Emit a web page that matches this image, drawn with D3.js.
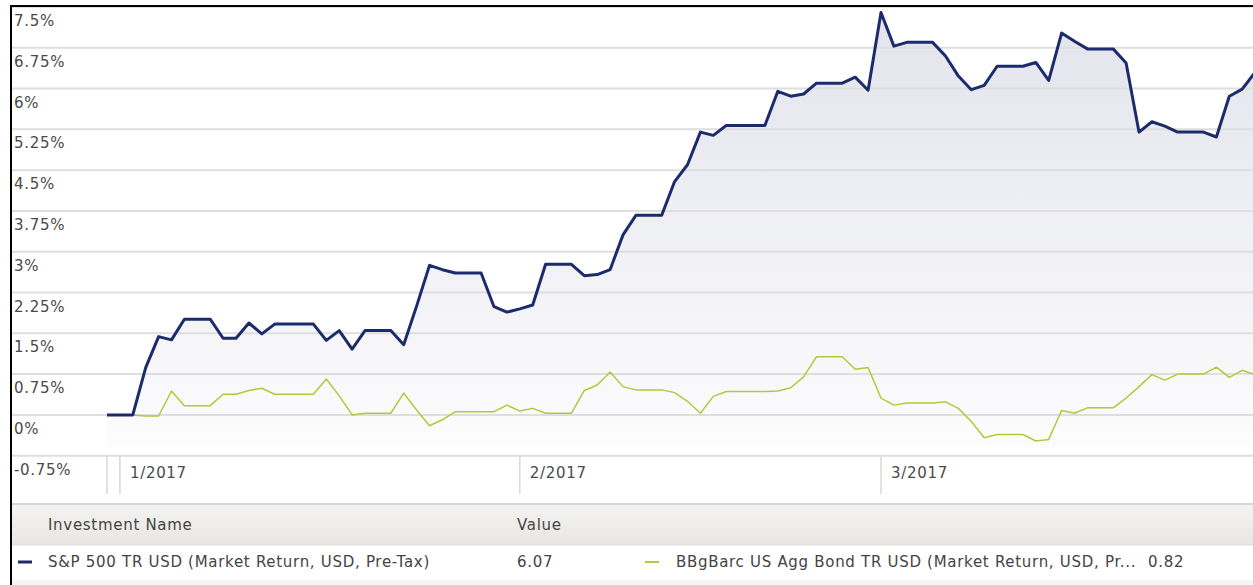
<!DOCTYPE html>
<html>
<head>
<meta charset="utf-8">
<script src="https://cdn.jsdelivr.net/npm/d3@7"></script>
<style>
  body { margin: 0; background: #fff; }
  svg { display: block; font-family: "DejaVu Sans", Verdana, sans-serif; }
  svg text { font-size: 15px; letter-spacing: 0.7px; }
</style>
</head>
<body>
<div id="chart"></div>
<script>
// --- Daten ---
const startDatum = "2016-12-31";
const endDatum = "2017-03-31";

// tägliche Punkte 31.12.2016 - 31.03.2017 (Wochenenden flach)
const tage = [
  "2016-12-31",
  "2017-01-01","2017-01-02","2017-01-03","2017-01-04","2017-01-05","2017-01-06","2017-01-07","2017-01-08",
  "2017-01-09","2017-01-10","2017-01-11","2017-01-12","2017-01-13","2017-01-14","2017-01-15","2017-01-16",
  "2017-01-17","2017-01-18","2017-01-19","2017-01-20","2017-01-21","2017-01-22","2017-01-23","2017-01-24",
  "2017-01-25","2017-01-26","2017-01-27","2017-01-28","2017-01-29","2017-01-30","2017-01-31",
  "2017-02-01","2017-02-02","2017-02-03","2017-02-04","2017-02-05","2017-02-06","2017-02-07","2017-02-08",
  "2017-02-09","2017-02-10","2017-02-11","2017-02-12","2017-02-13","2017-02-14","2017-02-15","2017-02-16",
  "2017-02-17","2017-02-18","2017-02-19","2017-02-20","2017-02-21","2017-02-22","2017-02-23","2017-02-24",
  "2017-02-25","2017-02-26","2017-02-27","2017-02-28",
  "2017-03-01","2017-03-02","2017-03-03","2017-03-04","2017-03-05","2017-03-06","2017-03-07","2017-03-08",
  "2017-03-09","2017-03-10","2017-03-11","2017-03-12","2017-03-13","2017-03-14","2017-03-15","2017-03-16",
  "2017-03-17","2017-03-18","2017-03-19","2017-03-20","2017-03-21","2017-03-22","2017-03-23","2017-03-24",
  "2017-03-25","2017-03-26","2017-03-27","2017-03-28","2017-03-29","2017-03-30","2017-03-31"
];

// S&P 500 TR USD, kumulierte Rendite in %
const sp500 = [
  0,
  0, 0, 0.87, 1.44, 1.38, 1.76, 1.76, 1.76,
  1.41, 1.41, 1.69, 1.49, 1.67, 1.67, 1.67, 1.67,
  1.37, 1.55, 1.21, 1.55, 1.55, 1.55, 1.29, 2.00,
  2.75, 2.67, 2.61, 2.61, 2.61, 1.99, 1.89,
  1.95, 2.02, 2.77, 2.77, 2.77, 2.56, 2.58, 2.67,
  3.31, 3.67, 3.67, 3.67, 4.29, 4.60, 5.20, 5.14,
  5.32, 5.32, 5.32, 5.32, 5.95, 5.86, 5.90, 6.10,
  6.10, 6.10, 6.21, 5.97,
  7.40, 6.78, 6.85, 6.85, 6.85, 6.60, 6.23, 5.98,
  6.06, 6.41, 6.41, 6.41, 6.48, 6.15, 7.02, 6.87,
  6.73, 6.73, 6.73, 6.47, 5.20, 5.39, 5.31, 5.20,
  5.20, 5.20, 5.11, 5.86, 5.99, 6.30, 6.07
];

// BBgBarc US Agg Bond TR USD, kumulierte Rendite in %
const agg = [
  0,
  0, 0, -0.02, -0.02, 0.44, 0.17, 0.17, 0.17,
  0.38, 0.38, 0.45, 0.49, 0.38, 0.38, 0.38, 0.38,
  0.66, 0.35, 0.00, 0.03, 0.03, 0.03, 0.40, 0.09,
  -0.20, -0.09, 0.06, 0.06, 0.06, 0.06, 0.18,
  0.07, 0.12, 0.03, 0.03, 0.03, 0.45, 0.55, 0.79,
  0.52, 0.46, 0.46, 0.46, 0.41, 0.25, 0.03, 0.34,
  0.43, 0.43, 0.43, 0.43, 0.44, 0.50, 0.70, 1.07,
  1.07, 1.07, 0.84, 0.87,
  0.31, 0.18, 0.22, 0.22, 0.22, 0.24, 0.12, -0.12,
  -0.42, -0.36, -0.36, -0.36, -0.48, -0.45, 0.08, 0.03,
  0.13, 0.13, 0.13, 0.31, 0.52, 0.74, 0.64, 0.75,
  0.75, 0.75, 0.88, 0.69, 0.82, 0.74, 0.82
];

const yTicks = [-0.75, 0, 0.75, 1.5, 2.25, 3, 3.75, 4.5, 5.25, 6, 6.75, 7.5];
const yTickLabels = ["-0.75%", "0%", "0.75%", "1.5%", "2.25%", "3%", "3.75%", "4.5%", "5.25%", "6%", "6.75%", "7.5%"];
const xTicks = ["2017-01-01", "2017-02-01", "2017-03-01"];
const xTickLabels = ["1/2017", "2/2017", "3/2017"];

const serienNamen = ["S&P 500 TR USD (Market Return, USD, Pre-Tax)", "BBgBarc US Agg Bond TR USD (Market Return, USD, Pr..."];
const serienWerte = ["6.07", "0.82"];

// --- Layout ---
const W = 1253, H = 585;
const parse = d3.timeParse("%Y-%m-%d");

const svg = d3.select("#chart").append("svg")
  .attr("width", W)
  .attr("height", H);

const x = d3.scaleTime()
  .domain([parse(startDatum), parse(endDatum)])
  .range([107, 1268]);

const y = d3.scaleLinear()
  .domain([-0.75, 7.5])
  .range([455.7, 7]);

const spData = tage.map((t, i) => ({ x: parse(t), y: sp500[i] }));
const aggData = tage.map((t, i) => ({ x: parse(t), y: agg[i] }));

// Verlauf für die Fläche unter der S&P-Linie
const defs = svg.append("defs");
const grad = defs.append("linearGradient")
  .attr("id", "flaeche").attr("x1", 0).attr("y1", 0).attr("x2", 0).attr("y2", 1);
grad.append("stop").attr("offset", "0%").attr("stop-color", "#e3e4ec");
grad.append("stop").attr("offset", "100%").attr("stop-color", "#fcfcfd");

const kopf = defs.append("linearGradient")
  .attr("id", "kopf").attr("x1", 0).attr("y1", 0).attr("x2", 0).attr("y2", 1);
kopf.append("stop").attr("offset", "0%").attr("stop-color", "#f4f3f1");
kopf.append("stop").attr("offset", "100%").attr("stop-color", "#e9e7e4");

// Fläche
svg.append("path")
  .datum(spData)
  .attr("fill", "url(#flaeche)")
  .attr("d", d3.area()
    .x(d => x(d.x))
    .y0(y(-0.6))
    .y1(d => y(d.y)));

// Gitterlinien
svg.append("g")
  .selectAll("line")
  .data(yTicks)
  .enter()
  .append("line")
  .attr("x1", 12).attr("x2", W)
  .attr("y1", d => y(d)).attr("y2", d => y(d))
  .attr("stroke", "#dedede")
  .attr("stroke-width", 2);

// Y-Beschriftungen (unter der jeweiligen Linie)
svg.append("g")
  .selectAll("text")
  .data(yTicks)
  .enter()
  .append("text")
  .attr("x", 14)
  .attr("y", d => y(d) + 19)
  .attr("fill", "#4a4a4a")
  .text((d, i) => yTickLabels[i]);

// X-Achse: senkrechte Striche + Monatslabels
const xStriche = [startDatum].concat(xTicks);
svg.append("g")
  .selectAll("line")
  .data(xStriche)
  .enter()
  .append("line")
  .attr("x1", d => x(parse(d))).attr("x2", d => x(parse(d)))
  .attr("y1", 456).attr("y2", 494)
  .attr("stroke", "#d8d8d8")
  .attr("stroke-width", 1.5);

svg.append("g")
  .selectAll("text")
  .data(xTicks)
  .enter()
  .append("text")
  .attr("x", d => x(parse(d)) + 10)
  .attr("y", 478)
  .attr("fill", "#4a4a4a")
  .text((d, i) => xTickLabels[i]);

// Linien
const line = d3.line().x(d => x(d.x)).y(d => y(d.y));

svg.append("path")
  .datum(aggData)
  .attr("fill", "none")
  .attr("stroke", "#b4c83a")
  .attr("stroke-width", 1.5)
  .attr("stroke-linejoin", "round")
  .attr("d", line);

svg.append("path")
  .datum(spData)
  .attr("fill", "none")
  .attr("stroke", "#1c2b6b")
  .attr("stroke-width", 3)
  .attr("stroke-linejoin", "round")
  .attr("d", line);

// --- Legende / Tabelle ---
svg.append("rect").attr("x", 12).attr("y", 503).attr("width", W).attr("height", 2).attr("fill", "#d6d6d6");
svg.append("rect").attr("x", 12).attr("y", 505).attr("width", W).attr("height", 39).attr("fill", "url(#kopf)");
svg.append("rect").attr("x", 12).attr("y", 544).attr("width", W).attr("height", 1.5).attr("fill", "#e2e2e2");
svg.append("rect").attr("x", 12).attr("y", 580).attr("width", W).attr("height", 5).attr("fill", "#f6f6f6");

svg.append("text").attr("x", 48).attr("y", 530).attr("fill", "#444").text("Investment Name");
svg.append("text").attr("x", 517).attr("y", 530).attr("fill", "#444").text("Value");

const legX = [18, 645];
const legTextX = [48, 676];
const legWertX = [517, 1148];
const farben = ["#1c2b6b", "#b4c83a"];
const dicke = [3, 2];

serienNamen.forEach((name, i) => {
  svg.append("line")
    .attr("x1", legX[i]).attr("x2", legX[i] + 14)
    .attr("y1", 562).attr("y2", 562)
    .attr("stroke", farben[i])
    .attr("stroke-width", dicke[i]);
  svg.append("text").attr("x", legTextX[i]).attr("y", 567).attr("fill", "#444").text(name);
  svg.append("text").attr("x", legWertX[i]).attr("y", 567).attr("fill", "#444").text(serienWerte[i]);
});

// Rahmen oben und links
svg.append("rect").attr("x", 10).attr("y", 5).attr("width", W).attr("height", 2).attr("fill", "#000");
svg.append("rect").attr("x", 10).attr("y", 5).attr("width", 2).attr("height", H).attr("fill", "#000");
</script>
</body>
</html>
